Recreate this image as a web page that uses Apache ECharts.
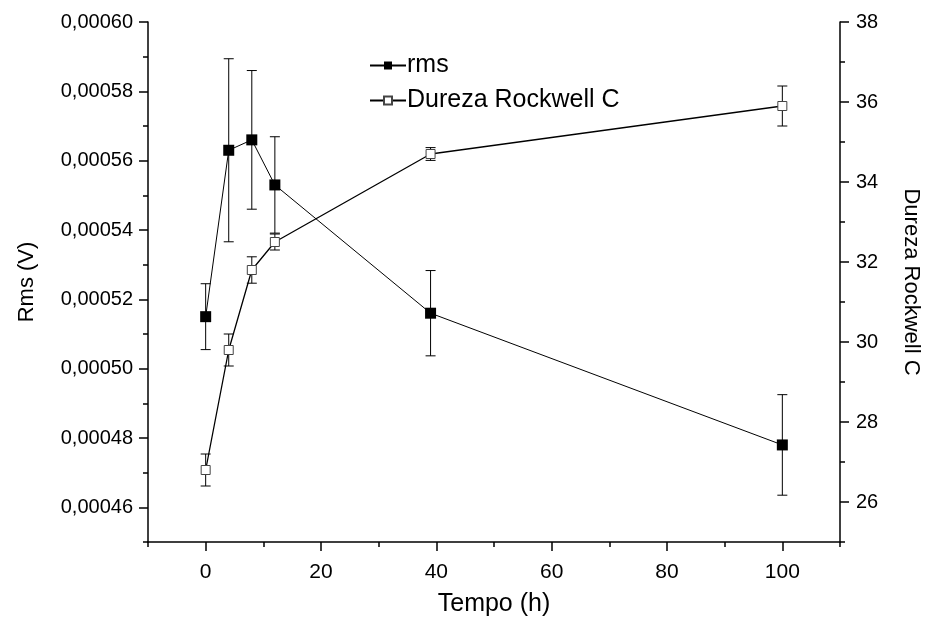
<!DOCTYPE html>
<html>
<head>
<meta charset="utf-8">
<script src="https://cdn.jsdelivr.net/npm/echarts@6/dist/echarts.min.js"></script>
<style>html,body{margin:0;padding:0;background:#fff;}#c{width:930px;height:622px;}</style>
</head>
<body>
<div id="c"></div>
<script>
// ---- data ----
const time = [0, 4, 8, 12, 39, 100];
const rmsValues = [0.000515, 0.000563, 0.000566, 0.000553, 0.000516, 0.000478];
const rmsErrors = [0.0000095, 0.0000264, 0.00002, 0.0000139, 0.0000123, 0.0000145];
const durezaValues = [26.8, 29.8, 31.8, 32.5, 34.7, 35.9];
const durezaErrors = [0.4, 0.4, 0.33, 0.2, 0.16, 0.5];
const xTickLabels = [0, 20, 40, 60, 80, 100];
const xMinorTicks = [-10, 10, 30, 50, 70, 90, 110];
const leftTickLabels = [0.00046, 0.00048, 0.00050, 0.00052, 0.00054, 0.00056, 0.00058, 0.00060];
const leftMinorTicks = [0.00045, 0.00047, 0.00049, 0.00051, 0.00053, 0.00055, 0.00057, 0.00059];
const rightTickLabels = [26, 28, 30, 32, 34, 36, 38];
const rightMinorTicks = [25, 27, 29, 31, 33, 35, 37];

const FONT = 'Arial, "Liberation Sans", sans-serif';
const chart = echarts.init(document.getElementById('c'), null, {renderer: 'canvas'});

const pair = (xs, ys) => xs.map((x, i) => [x, ys[i]]);
const errData = (xs, ys, es) => xs.map((x, i) => [x, ys[i] - es[i], ys[i] + es[i]]);

function errRender(params, api) {
  const x = api.value(0);
  const lo = api.coord([x, api.value(1)]);
  const hi = api.coord([x, api.value(2)]);
  const w = 5;
  const st = {stroke: '#000', lineWidth: 1};
  return {
    type: 'group',
    children: [
      {type: 'line', shape: {x1: lo[0], y1: lo[1], x2: hi[0], y2: hi[1]}, style: st},
      {type: 'line', shape: {x1: hi[0] - w, y1: hi[1], x2: hi[0] + w, y2: hi[1]}, style: st},
      {type: 'line', shape: {x1: lo[0] - w, y1: lo[1], x2: lo[0] + w, y2: lo[1]}, style: st}
    ]
  };
}

const axisLineStyle = {color: '#000', width: 1.5};
const labelStyle = {color: '#000', fontSize: 20, fontFamily: FONT};
const fmtLeft = v => v.toFixed(5).replace('.', ',');

const option = {
  backgroundColor: '#fff',
  animation: false,
  grid: {left: 148, right: 80, top: 22, bottom: 79, containLabel: false},
  legend: {
    data: ['rms', 'Dureza Rockwell C'],
    orient: 'vertical',
    left: 364, top: 48,
    itemWidth: 36, itemHeight: 10, itemGap: 10,
    textStyle: {color: '#000', fontSize: 25, fontFamily: FONT, padding: [0, 0, 0, -4]}
  },
  xAxis: [
    {
      type: 'value', min: -10, max: 110, position: 'bottom',
      name: 'Tempo (h)', nameLocation: 'middle', nameGap: 50,
      nameTextStyle: {color: '#000', fontSize: 25, fontFamily: FONT},
      axisLine: {show: true, onZero: false, lineStyle: axisLineStyle},
      axisTick: {show: true, inside: false, length: 9, customValues: xTickLabels, lineStyle: {color: '#000', width: 1.5}},
      axisLabel: {show: true, customValues: xTickLabels, margin: 20, color: '#000', fontSize: 21, fontFamily: FONT},
      splitLine: {show: false}
    },
    {
      type: 'value', min: -10, max: 110, position: 'bottom',
      axisLine: {show: false, onZero: false},
      axisTick: {show: true, inside: false, length: 5, customValues: xMinorTicks, lineStyle: {color: '#000', width: 1.5}},
      axisLabel: {show: false},
      splitLine: {show: false}
    }
  ],
  yAxis: [
    {
      type: 'value', min: 0.00045, max: 0.00060, position: 'left',
      name: 'Rms (V)', nameLocation: 'middle', nameGap: 110,
      nameTextStyle: {color: '#000', fontSize: 22, fontFamily: FONT},
      axisLine: {show: true, onZero: false, lineStyle: axisLineStyle},
      axisTick: {show: true, inside: false, length: 9, customValues: leftTickLabels, lineStyle: {color: '#000', width: 1.5}},
      axisLabel: {show: true, customValues: leftTickLabels, formatter: fmtLeft, margin: 15, ...labelStyle},
      splitLine: {show: false}
    },
    {
      type: 'value', min: 25, max: 38, position: 'right',
      name: 'Dureza Rockwell C', nameLocation: 'middle', nameGap: 60, nameRotate: -90,
      nameTextStyle: {color: '#000', fontSize: 22, fontFamily: FONT},
      axisLine: {show: true, onZero: false, lineStyle: axisLineStyle},
      axisTick: {show: true, inside: false, length: 9, customValues: rightTickLabels, lineStyle: {color: '#000', width: 1.5}},
      axisLabel: {show: true, customValues: rightTickLabels, margin: 16, ...labelStyle},
      splitLine: {show: false}
    },
    {
      type: 'value', min: 0.00045, max: 0.00060, position: 'left',
      axisLine: {show: false, onZero: false},
      axisTick: {show: true, inside: false, length: 5, customValues: leftMinorTicks, lineStyle: {color: '#000', width: 1.5}},
      axisLabel: {show: false}, splitLine: {show: false}
    },
    {
      type: 'value', min: 25, max: 38, position: 'right',
      axisLine: {show: false, onZero: false},
      axisTick: {show: true, inside: false, length: 5, customValues: rightMinorTicks, lineStyle: {color: '#000', width: 1.5}},
      axisLabel: {show: false}, splitLine: {show: false}
    }
  ],
  series: [
    {
      name: 'rmsErr', type: 'custom', xAxisIndex: 0, yAxisIndex: 0, z: 1,
      renderItem: errRender, data: errData(time, rmsValues, rmsErrors), silent: true
    },
    {
      name: 'durezaErr', type: 'custom', xAxisIndex: 0, yAxisIndex: 1, z: 1,
      renderItem: errRender, data: errData(time, durezaValues, durezaErrors), silent: true
    },
    {
      name: 'rms', type: 'line', xAxisIndex: 0, yAxisIndex: 0, z: 3,
      data: pair(time, rmsValues),
      symbol: 'rect', symbolSize: 11, showAllSymbol: true,
      lineStyle: {color: '#000', width: 1},
      itemStyle: {color: '#000', borderColor: '#000', borderWidth: 0}
    },
    {
      name: 'Dureza Rockwell C', type: 'line', xAxisIndex: 0, yAxisIndex: 1, z: 3,
      data: pair(time, durezaValues),
      symbol: 'rect', symbolSize: 9, showAllSymbol: true,
      lineStyle: {color: '#000', width: 1.3},
      itemStyle: {color: '#fff', borderColor: '#444', borderWidth: 1}
    }
  ]
};
chart.setOption(option);
</script>
</body>
</html>
